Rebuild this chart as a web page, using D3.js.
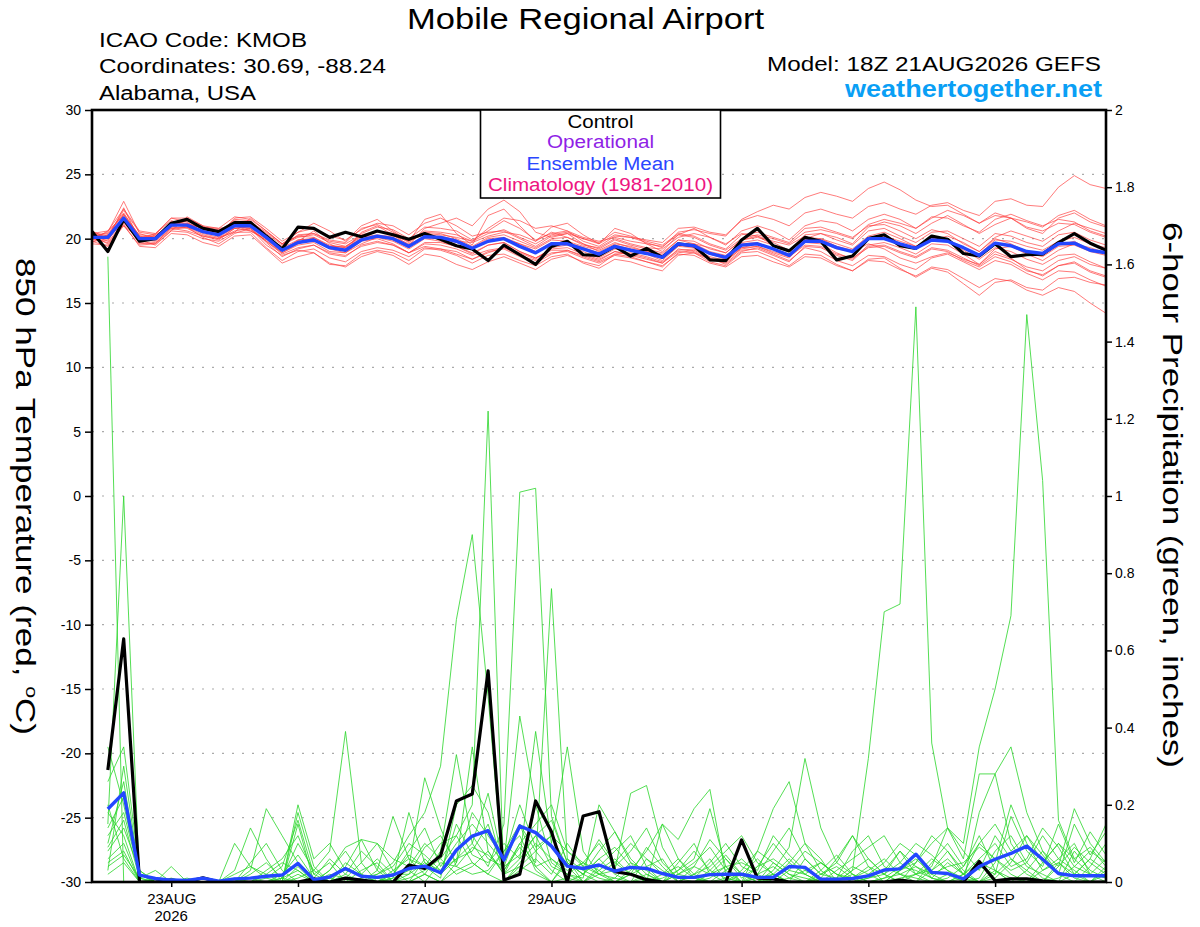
<!DOCTYPE html>
<html><head><meta charset="utf-8">
<script src="https://cdn.jsdelivr.net/npm/d3@7"></script>
<style>
body{margin:0;background:#fff}
svg{display:block}
text{font-family:"Liberation Sans",Arial,Helvetica,sans-serif}
</style>
</head><body>
<svg id="c" width="1200" height="927"></svg>
<script>
// ---------------- DATA ----------------
const startTime = "2026-08-21T18:00:00Z";   // model run 18Z 21AUG2026, 6-hourly steps
const stepHours = 6;

// Control run 850 hPa temperature (deg C), f000..f384
const controlTemp = [20.55,19.0,21.5,19.8,20.0,21.2,21.5,20.8,20.55,21.25,21.25,
 20.2,19.2,20.9,20.8,20.1,20.5,20.15,20.6,20.3,19.95,
 20.4,19.95,19.45,19.2,18.3,19.5,18.75,18.0,19.4,19.8,18.75,18.7,
 19.4,18.65,19.25,18.55,19.6,19.45,18.35,18.3,19.9,20.8,19.45,19.05,
 20.1,19.8,18.35,18.65,20.0,20.3,19.45,19.25,20.2,19.95,18.85,18.65,
 19.6,18.6,18.75,18.8,19.7,20.4,19.65,19.1];

// Ensemble mean 850 hPa temperature
const meanTemp = [20.1,20.1,21.6,20.0,20.0,21.05,21.05,20.55,20.3,21.0,21.0,
 20.1,19.1,19.7,19.9,19.3,19.1,19.9,20.2,20.0,19.4,
 20.15,20.1,19.8,19.25,19.8,20.0,19.4,18.9,19.6,19.6,19.2,18.8,
 19.4,19.1,18.85,18.55,19.6,19.45,18.85,18.55,19.5,19.6,19.2,18.7,
 19.8,19.8,19.3,19.0,20.0,20.0,19.6,19.25,19.9,19.8,19.3,18.7,
 19.65,19.45,19.0,18.85,19.6,19.65,19.1,18.9];

// Ensemble members 850 hPa temperature
const memberTemps = [
 [20.3,20.4,22.0,20.2,20.1,21.3,21.2,20.8,20.5,21.2,21.3, 20.5,19.6,20.2,20.4,19.8,19.6,20.3,20.6,20.4,19.9, 20.6,20.5,20.3,19.8,20.4,20.7,20.1,19.6,20.3,20.5,20.0,19.6, 20.3,20.1,19.9,19.7,20.8,20.9,20.5,20.3,21.4,21.8,21.5,21.0, 22.0,22.3,21.9,21.6,22.5,22.8,22.3,21.9,22.6,22.8,22.2,21.8, 22.9,23.1,22.6,22.5,24.0,24.9,24.2,23.9],
 [19.9,20.6,21.8,19.8,20.3,21.0,21.4,20.9,20.2,21.1,20.7, 19.8,18.9,19.6,20.1,19.5,19.3,20.4,20.9,20.7,20.0, 20.9,20.8,20.6,19.9,20.6,21.4,20.8,19.9,20.4,20.6,19.8,19.4, 20.2,20.1,19.7,19.3,20.5,20.7,20.4,20.2,21.5,22.1,22.6,22.3, 23.2,23.6,23.3,22.9,23.9,24.4,23.8,23.0,22.5,22.6,21.9,21.2, 21.8,21.6,20.9,20.6,21.2,21.1,20.5,20.1],
 [20.0,19.7,21.3,19.9,19.8,20.8,20.9,20.3,20.0,20.6,20.8, 19.8,18.8,19.3,19.5,18.9,18.7,19.4,19.7,19.5,18.9, 19.6,19.5,19.2,18.7,19.1,19.3,18.7,18.3,18.9,19.0,18.5,18.1, 18.7,18.5,18.2,17.9,18.8,18.7,18.1,17.8,18.6,18.7,18.2,17.8, 18.6,18.5,17.9,17.5,18.3,18.2,17.6,17.1,17.8,17.6,16.9,16.2, 16.9,16.7,16.0,15.6,16.2,15.9,15.0,14.2],
 [20.2,20.3,21.9,20.1,19.9,21.1,21.0,20.4,20.1,20.9,21.1, 20.0,19.0,19.9,20.0,19.2,18.9,19.6,20.1,19.8,19.2, 20.0,19.8,19.4,18.9,19.5,19.7,19.0,18.5,19.2,19.3,18.8,18.4, 19.0,18.8,18.5,18.1,19.0,18.9,18.2,17.9,18.9,19.0,18.5,17.9, 18.8,18.7,18.0,17.5,18.4,18.5,17.7,17.0,17.7,17.4,16.5,15.6, 16.6,16.8,16.2,16.0,16.9,17.0,16.6,16.4],
 [20.4,20.0,21.7,20.3,20.2,21.2,21.5,20.7,20.6,21.4,21.2, 20.4,19.5,20.1,20.3,19.7,19.4,20.2,20.5,20.4,19.7, 20.5,20.4,20.0,19.4,20.1,20.3,19.8,19.3,20.0,20.1,19.6,19.2, 19.9,19.5,19.2,18.9,19.9,19.8,19.2,18.9,19.9,20.1,19.7,19.1, 20.3,20.4,19.9,19.5,20.6,20.8,20.2,19.7,20.5,20.6,20.0,19.4, 20.4,20.2,19.7,19.4,20.3,20.5,19.9,19.5],
 [19.8,19.9,21.4,19.7,19.6,20.9,20.8,20.2,19.9,20.8,20.9, 19.7,18.6,19.2,19.5,18.8,18.6,19.5,19.8,19.5,18.9, 19.7,19.7,19.4,18.8,19.5,19.7,19.0,18.5,19.1,19.1,18.7,18.3, 19.0,18.7,18.4,18.1,19.2,19.0,18.4,18.1,19.1,19.2,18.7,18.2, 19.4,19.3,18.7,18.3,19.4,19.5,19.0,18.6,19.3,19.1,18.5,17.9, 18.8,18.4,17.8,17.5,18.3,18.6,18.0,17.7],
 [20.1,20.5,22.9,20.4,20.0,21.0,21.6,20.6,20.4,21.5,21.4, 20.3,19.2,19.8,20.6,19.6,19.0,20.5,21.0,20.3,19.5, 20.8,21.2,21.6,21.0,22.3,23.0,22.1,20.5,20.1,20.4,19.6,19.0, 19.6,19.4,19.0,18.7,19.5,19.6,19.3,18.9,19.9,20.2,19.5,19.0, 20.0,20.4,20.1,19.6,20.9,21.3,21.0,20.4,21.2,21.8,21.1,20.4, 21.1,21.6,21.3,20.9,21.8,22.2,21.5,21.0],
 [20.0,20.1,21.5,19.6,19.7,20.7,20.9,20.1,19.6,20.4,20.8, 19.5,18.7,19.1,18.9,18.0,17.9,18.8,19.1,18.9,18.3, 19.2,19.2,19.0,18.4,18.9,19.3,18.9,18.4,19.3,19.5,19.0,18.5, 19.2,19.1,18.8,18.3,19.4,19.3,18.8,18.4,19.3,19.4,18.9,18.5, 19.7,19.6,18.9,18.4,19.5,19.7,19.3,18.8,19.6,19.5,18.8,18.0, 19.0,18.5,17.6,17.1,17.9,18.2,17.5,17.1],
 [20.2,19.6,21.2,20.0,20.4,21.4,21.1,20.9,20.7,21.0,20.9, 20.2,19.3,19.9,20.0,19.4,19.4,20.1,20.3,20.1,19.6, 20.1,20.0,19.7,19.3,19.8,20.0,19.6,19.2,19.9,19.8,19.4,19.1, 19.7,19.3,19.0,18.8,19.9,19.6,19.0,18.7,19.7,19.9,19.5,19.0, 20.1,20.0,19.4,19.1,20.1,20.2,19.8,19.4,20.1,19.9,19.3,18.8, 19.9,19.8,19.4,19.1,19.8,20.1,19.6,19.3],
 [20.5,20.2,22.2,20.5,20.3,21.6,21.3,20.5,20.3,21.6,21.7, 20.8,19.8,20.5,20.8,20.2,19.9,20.7,21.2,21.0,20.3, 21.2,21.6,21.0,20.2,20.5,20.6,20.0,19.4,20.2,20.4,20.0,19.7, 20.5,20.2,19.8,19.5,20.4,20.2,19.6,19.2,20.3,20.5,20.1,19.7, 20.8,20.9,20.5,20.1,21.0,21.1,20.6,20.0,20.7,20.4,19.6,19.0, 20.0,19.6,19.0,18.7,19.5,19.8,19.1,18.8],
 [19.7,20.3,21.0,19.5,19.6,20.6,20.5,20.0,19.8,20.5,20.5, 19.3,18.3,19.0,19.2,18.5,18.2,19.0,19.3,19.1,18.6, 19.3,19.1,18.7,18.1,18.7,18.8,18.3,17.9,18.6,18.8,18.1,17.7, 18.4,18.2,17.8,17.5,18.7,18.9,18.4,18.2,19.3,19.6,19.2,18.8, 19.9,20.0,19.6,19.2,20.2,20.5,20.0,19.4,20.0,19.9,19.1,18.4, 19.3,19.0,18.4,18.0,18.7,18.8,18.2,17.7],
 [20.3,19.8,21.9,20.2,19.9,21.3,21.0,20.9,20.8,21.0,20.6, 20.0,19.4,20.3,20.4,19.9,19.7,20.8,21.1,20.5,19.9, 20.3,20.0,19.8,19.7,20.2,20.5,20.3,19.8,20.5,20.1,19.5,19.3, 20.0,19.6,19.3,19.2,20.1,20.4,20.1,19.6,20.4,20.2,19.8,19.5, 20.2,19.7,19.2,19.0,19.6,19.2,18.5,18.1,18.6,18.9,18.4,18.0, 19.2,19.4,18.8,18.3,19.1,19.6,19.3,18.9],
 [19.9,20.0,21.6,20.0,20.1,20.9,21.2,20.6,20.3,20.8,21.0, 20.1,19.1,19.7,19.9,19.3,19.1,19.9,20.2,19.9,19.3, 20.2,20.2,19.9,19.3,20.0,20.1,19.6,19.0,19.7,19.7,19.3,18.9, 19.5,19.2,18.9,18.6,19.6,19.4,18.9,18.6,19.6,19.7,19.2,18.7, 19.9,19.9,19.4,19.0,20.1,20.3,19.6,19.2,19.9,20.2,19.7,19.0, 20.1,20.6,20.2,19.8,20.6,21.2,20.8,20.4],
 [20.1,20.2,21.5,20.1,20.0,21.1,20.9,20.5,20.3,21.0,21.1, 20.0,19.1,19.7,19.9,19.3,19.2,20.0,20.2,20.0,19.4, 20.1,20.0,19.8,19.3,19.8,20.0,19.4,18.9,19.6,19.6,19.2,18.8, 19.4,19.1,18.8,18.5,19.5,19.4,18.8,18.5,19.5,19.6,19.2,18.7, 19.8,19.8,19.3,19.0,20.0,20.0,19.6,19.2,19.9,19.8,19.3,18.7, 19.6,19.4,18.9,18.6,19.4,19.5,19.0,18.7],
 [20.6,20.0,22.4,19.9,19.5,20.6,21.7,21.0,20.1,20.5,21.6, 20.6,19.6,20.5,21.2,20.6,19.8,21.0,21.5,20.6,19.8, 21.5,21.9,20.4,19.5,21.8,22.3,21.0,19.8,20.9,21.2,20.3,19.6, 20.8,20.4,19.6,19.0,20.3,20.8,20.1,19.5,20.6,21.0,20.6,19.9, 21.0,21.4,21.2,20.6,21.5,21.9,21.5,20.8,21.6,22.2,21.8,21.2, 22.0,21.6,20.8,20.4,21.6,22.0,21.3,20.9],
 [19.6,19.5,21.1,19.4,19.3,20.4,20.3,19.7,19.4,20.2,20.3, 19.2,18.1,18.6,18.9,18.1,17.8,18.6,19.0,18.7,18.0, 18.8,18.6,18.0,17.6,18.2,18.6,18.1,17.6,18.4,18.7,18.2,17.9, 18.8,18.9,18.6,18.2,19.1,19.2,18.6,18.3,19.2,19.4,19.0,18.6, 19.5,19.4,18.8,18.5,19.3,19.4,18.9,18.5,19.2,19.0,18.3,17.8, 18.6,18.2,17.5,17.2,17.9,18.1,17.4,17.0],
 [20.4,20.6,22.3,20.6,20.4,21.6,21.6,21.0,20.8,21.7,21.5, 20.6,19.6,20.2,20.1,19.4,19.3,20.0,20.2,20.2,19.8, 20.4,20.3,20.1,19.8,20.8,21.6,21.4,20.8,21.0,20.6,20.1,19.8, 20.1,19.8,19.6,19.4,20.3,20.1,19.5,19.1,20.0,20.3,20.0,19.6, 20.5,20.7,20.4,20.0,21.1,21.5,21.2,20.8,21.7,21.6,21.0,20.5, 21.5,21.9,21.4,21.0,21.5,21.3,20.6,20.2],
 [19.8,19.4,21.0,20.0,20.2,20.8,20.6,20.2,20.0,20.8,20.6, 19.9,18.9,19.5,19.7,19.0,18.9,19.8,20.0,19.6,18.9, 19.4,19.2,18.8,18.4,19.0,19.2,18.6,18.1,18.8,19.1,18.6,18.2, 18.8,18.6,18.2,17.8,18.9,19.1,18.5,18.0,19.0,19.3,18.8,18.3, 19.3,19.0,18.3,17.9,18.7,18.6,18.0,17.6,18.5,18.8,18.2,17.6, 18.3,18.0,17.3,16.8,17.5,17.4,16.8,16.3]
];

// Control run 6-hour precipitation (inches), f006..f384
const controlPrecip = [0.29,0.63,0.0,0.0,0.005,0.0,0.011,0.0,
 0.0,0.0,0.0,0.0,0.0,0.008,0.0,0.01,
 0.005,0.0,0.0,0.044,0.035,0.068,0.21,0.228,
 0.547,0.005,0.02,0.21,0.13,0.0,0.171,0.182,
 0.027,0.02,0.006,0.0,0.0,0.0,0.0,0.0,
 0.109,0.01,0.008,0.0,0.0,0.0,0.0,0.0,
 0.0,0.0,0.005,0.0,0.0,0.0,0.0,0.053,
 0.003,0.008,0.008,0.003,0.0,0.0,0.0,0.0];

// Ensemble mean 6-hour precipitation
const meanPrecip = [0.189,0.231,0.018,0.009,0.005,0.004,0.01,0.002,
 0.008,0.01,0.015,0.018,0.048,0.006,0.013,0.035,
 0.015,0.012,0.018,0.035,0.041,0.024,0.083,0.119,
 0.133,0.057,0.145,0.128,0.093,0.041,0.035,0.044,
 0.028,0.038,0.035,0.022,0.012,0.012,0.019,0.02,
 0.02,0.012,0.012,0.04,0.038,0.007,0.007,0.009,
 0.016,0.031,0.034,0.072,0.025,0.022,0.008,0.04,
 0.059,0.074,0.093,0.059,0.022,0.016,0.016,0.016];

// Ensemble members 6-hour precipitation
const memberPrecip = [
 [1.62,0.00,0.00,0.00,0.01,0.00,0.00,0.00, 0.00,0.02,0.05,0.01,0.00,0.00,0.03,0.08, 0.02,0.00,0.00,0.04,0.10,0.06,0.12,0.05, 0.02,0.08,0.15,0.04,0.00,0.06,0.03,0.01, 0.00,0.02,0.09,0.04,0.00,0.00,0.03,0.07, 0.02,0.00,0.01,0.05,0.10,0.03,0.00,0.00, 0.01,0.03,0.08,0.02,0.00,0.01,0.04,0.10, 0.06,0.02,0.00,0.03,0.05,0.01,0.00,0.02],
 [0.15,1.00,0.00,0.00,0.00,0.00,0.01,0.00, 0.00,0.00,0.03,0.06,0.12,0.02,0.00,0.01, 0.05,0.10,0.03,0.00,0.02,0.08,0.33,0.10, 0.23,0.04,0.07,0.12,0.16,0.05,0.02,0.08, 0.13,0.05,0.00,0.02,0.06,0.02,0.00,0.01, 0.00,0.04,0.10,0.05,0.02,0.00,0.00,0.03, 0.06,0.02,0.00,0.00,0.03,0.08,0.03,0.00, 0.01,0.05,0.12,0.07,0.02,0.00,0.04,0.10],
 [0.35,0.20,0.02,0.00,0.00,0.00,0.00,0.00, 0.00,0.01,0.00,0.00,0.04,0.00,0.00,0.02, 0.00,0.00,0.03,0.06,0.04,0.10,0.12,0.20, 1.22,0.00,0.03,0.06,0.02,0.10,0.04,0.02, 0.00,0.03,0.08,0.15,0.06,0.01,0.00,0.00, 0.03,0.08,0.05,0.02,0.00,0.01,0.06,0.12, 0.04,0.00,0.01,0.02,0.06,0.03,0.00,0.01, 0.08,0.12,0.05,0.01,0.00,0.02,0.06,0.03],
 [0.10,0.26,0.01,0.00,0.00,0.00,0.00,0.00, 0.02,0.04,0.01,0.00,0.00,0.00,0.00,0.00, 0.00,0.02,0.05,0.12,0.18,0.30,0.68,0.90, 0.48,0.00,0.05,0.10,0.06,0.02,0.00,0.04, 0.08,0.12,0.04,0.00,0.02,0.05,0.09,0.03, 0.00,0.00,0.02,0.06,0.02,0.00,0.01,0.04, 0.02,0.00,0.00,0.05,0.12,0.08,0.02,0.00, 0.03,0.01,0.00,0.00,0.04,0.09,0.05,0.02],
 [0.18,0.12,0.00,0.01,0.00,0.00,0.00,0.00, 0.00,0.00,0.02,0.05,0.03,0.00,0.01,0.00, 0.00,0.00,0.02,0.02,0.05,0.03,0.06,0.10, 0.04,0.15,1.01,1.02,0.17,0.05,0.02,0.00, 0.01,0.05,0.03,0.00,0.00,0.02,0.04,0.08, 0.12,0.05,0.02,0.00,0.00,0.03,0.07,0.02, 0.00,0.01,0.04,0.03,0.01,0.00,0.02,0.05, 0.03,0.00,0.00,0.05,0.10,0.04,0.02,0.00],
 [0.26,0.35,0.03,0.00,0.00,0.00,0.00,0.00, 0.01,0.00,0.00,0.02,0.07,0.01,0.00,0.04, 0.11,0.03,0.00,0.01,0.03,0.06,0.02,0.04, 0.08,0.02,0.10,0.05,0.76,0.06,0.00,0.02, 0.05,0.02,0.00,0.01,0.03,0.06,0.19,0.04, 0.00,0.02,0.04,0.01,0.00,0.02,0.05,0.02, 0.00,0.00,0.03,0.06,0.02,0.00,0.01,0.04, 0.02,0.06,0.03,0.00,0.01,0.04,0.08,0.05],
 [0.05,0.08,0.00,0.00,0.00,0.00,0.00,0.00, 0.00,0.00,0.00,0.00,0.02,0.00,0.00,0.00, 0.00,0.01,0.00,0.00,0.02,0.00,0.03,0.05, 0.02,0.00,0.04,0.02,0.00,0.01,0.00,0.00, 0.00,0.00,0.01,0.00,0.02,0.04,0.02,0.00, 0.00,0.01,0.02,0.00,0.00,0.01,0.00,0.03, 0.32,0.70,0.72,1.49,0.36,0.14,0.10,0.35, 0.50,0.69,1.47,1.04,0.16,0.06,0.02,0.01],
 [0.12,0.18,0.02,0.00,0.00,0.00,0.00,0.00, 0.03,0.14,0.06,0.00,0.01,0.03,0.08,0.39, 0.05,0.00,0.02,0.08,0.14,0.04,0.10,0.15, 0.10,0.05,0.43,0.20,0.05,0.02,0.01,0.20, 0.13,0.06,0.02,0.00,0.00,0.04,0.11,0.06, 0.02,0.00,0.03,0.09,0.32,0.14,0.05,0.12, 0.06,0.02,0.00,0.02,0.04,0.14,0.06,0.28, 0.28,0.35,0.18,0.08,0.04,0.19,0.10,0.05],
 [0.08,0.14,0.03,0.00,0.00,0.00,0.00,0.00, 0.00,0.03,0.19,0.12,0.05,0.00,0.02,0.01, 0.00,0.03,0.17,0.06,0.02,0.00,0.05,0.35, 0.08,0.02,0.06,0.39,0.10,0.35,0.08,0.02, 0.03,0.23,0.25,0.09,0.02,0.01,0.00,0.03, 0.06,0.02,0.00,0.01,0.03,0.05,0.02,0.00, 0.02,0.05,0.10,0.07,0.01,0.00,0.02,0.06, 0.10,0.04,0.06,0.14,0.09,0.02,0.00,0.03],
 [0.04,0.07,0.01,0.03,0.00,0.00,0.00,0.00, 0.10,0.04,0.02,0.00,0.20,0.06,0.10,0.03, 0.02,0.00,0.01,0.18,0.05,0.02,0.06,0.08, 0.15,0.02,0.04,0.08,0.12,0.04,0.00,0.03, 0.06,0.02,0.00,0.15,0.11,0.19,0.24,0.02, 0.00,0.00,0.05,0.02,0.01,0.00,0.03,0.06, 0.09,0.12,0.05,0.02,0.03,0.06,0.02,0.00, 0.02,0.17,0.08,0.04,0.15,0.05,0.13,0.07],
 [0.20,0.06,0.00,0.00,0.04,0.00,0.00,0.00, 0.00,0.00,0.00,0.00,0.15,0.00,0.03,0.09, 0.11,0.10,0.06,0.04,0.27,0.14,0.04,0.02, 0.03,0.08,0.12,0.03,0.00,0.05,0.02,0.06, 0.09,0.04,0.01,0.00,0.03,0.08,0.03,0.01, 0.00,0.08,0.19,0.26,0.10,0.06,0.00,0.02, 0.00,0.01,0.02,0.00,0.05,0.10,0.04,0.12, 0.03,0.00,0.03,0.08,0.02,0.15,0.07,0.13],
 [0.02,0.05,0.00,0.00,0.00,0.01,0.00,0.00, 0.00,0.00,0.00,0.00,0.18,0.04,0.00,0.00, 0.03,0.05,0.00,0.00,0.06,0.02,0.15,0.07, 0.05,0.10,0.06,0.12,0.04,0.02,0.05,0.03, 0.00,0.02,0.04,0.06,0.00,0.00,0.01,0.04, 0.05,0.03,0.12,0.07,0.03,0.01,0.00,0.00, 0.00,0.00,0.03,0.05,0.10,0.14,0.08,0.03, 0.12,0.06,0.02,0.00,0.05,0.02,0.06,0.15],
 [0.06,0.10,0.00,0.00,0.00,0.00,0.00,0.00, 0.00,0.00,0.01,0.04,0.16,0.02,0.05,0.00, 0.01,0.02,0.04,0.10,0.07,0.03,0.08,0.12, 0.06,0.04,0.15,0.08,0.03,0.00,0.02,0.06, 0.02,0.00,0.06,0.03,0.00,0.02,0.06,0.00, 0.02,0.06,0.02,0.00,0.06,0.02,0.01,0.08, 0.12,0.04,0.02,0.01,0.00,0.02,0.00,0.18, 0.28,0.10,0.04,0.02,0.00,0.08,0.03,0.01],
 [0.14,0.22,0.02,0.00,0.00,0.00,0.00,0.00, 0.00,0.00,0.00,0.01,0.03,0.00,0.00,0.00, 0.00,0.00,0.01,0.03,0.00,0.05,0.04,0.09, 0.07,0.03,0.09,0.04,0.06,0.03,0.05,0.02, 0.01,0.00,0.02,0.00,0.05,0.10,0.02,0.04, 0.00,0.01,0.00,0.03,0.08,0.05,0.02,0.01, 0.04,0.02,0.05,0.10,0.07,0.03,0.01,0.00, 0.05,0.20,0.10,0.03,0.06,0.03,0.00,0.04],
 [0.09,0.16,0.01,0.00,0.00,0.00,0.00,0.00, 0.00,0.05,0.10,0.03,0.00,0.01,0.06,0.02, 0.08,0.04,0.00,0.02,0.09,0.12,0.05,0.18, 0.12,0.06,0.20,0.09,0.12,0.08,0.04,0.11, 0.05,0.10,0.06,0.02,0.04,0.01,0.05,0.10, 0.04,0.02,0.08,0.14,0.06,0.02,0.04,0.01, 0.03,0.06,0.02,0.04,0.01,0.05,0.02,0.10, 0.15,0.08,0.12,0.05,0.10,0.06,0.09,0.04],
 [0.03,0.30,0.02,0.00,0.00,0.00,0.00,0.00, 0.00,0.00,0.00,0.01,0.10,0.03,0.00,0.05, 0.02,0.06,0.02,0.07,0.04,0.01,0.20,0.25, 0.18,0.03,0.10,0.15,0.20,0.08,0.05,0.10, 0.04,0.08,0.14,0.05,0.01,0.00,0.02,0.06, 0.01,0.04,0.06,0.03,0.02,0.05,0.02,0.00, 0.01,0.02,0.08,0.04,0.02,0.04,0.05,0.09, 0.06,0.03,0.05,0.12,0.06,0.10,0.02,0.06]
];

// Axis ticks and labels
const tempTicks = [-30,-25,-20,-15,-10,-5,0,5,10,15,20,25,30];
const tempTickLabels = ["-30","-25","-20","-15","-10","-5","0","5","10","15","20","25","30"];
const tempGrid = [-25,-20,-15,-10,-5,0,5,10,15,20,25];
const precipTicks = [0,0.2,0.4,0.6,0.8,1,1.2,1.4,1.6,1.8,2];
const precipTickLabels = ["0","0.2","0.4","0.6","0.8","1","1.2","1.4","1.6","1.8","2"];
const dateTicks = ["2026-08-23T00:00:00Z","2026-08-25T00:00:00Z","2026-08-27T00:00:00Z","2026-08-29T00:00:00Z","2026-09-01T00:00:00Z","2026-09-03T00:00:00Z","2026-09-05T00:00:00Z"];
const dateTickLabels = ["23AUG","25AUG","27AUG","29AUG","1SEP","3SEP","5SEP"];

// ---------------- DRAW ----------------
const svg = d3.select("#c");
const L = 92, R = 1106, T = 110, B = 882;
const t0 = new Date(startTime);
const timeAt = i => new Date(t0.getTime() + i * stepHours * 3600e3);
const x = d3.scaleUtc().domain([timeAt(0), timeAt(controlTemp.length - 1)]).range([L, R]);
const yT = d3.scaleLinear().domain([-30, 30]).range([B, T]);
const yP = d3.scaleLinear().domain([0, 2]).range([B, T]);

svg.append("rect").attr("width",1200).attr("height",927).attr("fill","#fff");

svg.append("defs").append("clipPath").attr("id","clip")
  .append("rect").attr("x",L).attr("y",T).attr("width",R-L).attr("height",B-T);

// grid
svg.append("g").selectAll("line").data(tempGrid).join("line")
  .attr("x1",L).attr("x2",R).attr("y1",d=>yT(d)).attr("y2",d=>yT(d))
  .attr("stroke","#aaaaaa").attr("stroke-width",1.2).attr("stroke-dasharray","2,8");

const plot = svg.append("g").attr("clip-path","url(#clip)");
const lineT = d3.line().x((d,i)=>x(timeAt(i))).y(d=>yT(d));
const lineP = d3.line().x((d,i)=>x(timeAt(i+1))).y(d=>yP(d));

plot.append("g").selectAll("path").data(memberTemps).join("path")
  .attr("d",lineT).attr("fill","none").attr("stroke","#ff3a3a").attr("stroke-opacity",0.75).attr("stroke-width",0.9);
plot.append("g").selectAll("path").data(memberPrecip).join("path")
  .attr("d",lineP).attr("fill","none").attr("stroke","#2bd62b").attr("stroke-opacity",0.9).attr("stroke-width",0.9);

plot.append("path").datum(controlTemp).attr("d",lineT).attr("fill","none")
  .attr("stroke","#000").attr("stroke-width",3.2).attr("stroke-linejoin","round");
plot.append("path").datum(controlPrecip).attr("d",lineP).attr("fill","none")
  .attr("stroke","#000").attr("stroke-width",3.2).attr("stroke-linejoin","round");
plot.append("path").datum(meanTemp).attr("d",lineT).attr("fill","none")
  .attr("stroke","#2347ff").attr("stroke-width",3.4).attr("stroke-linejoin","round");
plot.append("path").datum(meanPrecip).attr("d",lineP).attr("fill","none")
  .attr("stroke","#2347ff").attr("stroke-width",3.4).attr("stroke-linejoin","round");

// axes
const styleAxis = (g, size) => {
  g.select(".domain").remove();
  g.selectAll(".tick line").attr("stroke","#000").attr("stroke-width",1.5);
  g.selectAll(".tick text").attr("fill","#000").style("font-family","'Liberation Sans',Arial,sans-serif").style("font-size",size+"px");
};
svg.append("g").attr("transform",`translate(${L},0)`)
  .call(d3.axisLeft(yT).tickValues(tempTicks).tickSize(7).tickPadding(4).tickFormat((d,i)=>tempTickLabels[i]))
  .call(g=>styleAxis(g,14));
svg.append("g").attr("transform",`translate(${R},0)`)
  .call(d3.axisRight(yP).tickValues(precipTicks).tickSize(6).tickPadding(3).tickFormat((d,i)=>precipTickLabels[i]))
  .call(g=>styleAxis(g,14));
svg.append("g").attr("transform",`translate(0,${B})`)
  .call(d3.axisBottom(x).tickValues(dateTicks.map(s=>new Date(s))).tickSize(5).tickPadding(6).tickFormat((d,i)=>dateTickLabels[i]))
  .call(g=>styleAxis(g,15));
svg.append("text").attr("x",x(new Date(dateTicks[0]))).attr("y",921).attr("text-anchor","middle")
  .style("font-size","15px").text("2026");

// frame
svg.append("rect").attr("x",L).attr("y",T).attr("width",R-L).attr("height",B-T)
  .attr("fill","none").attr("stroke","#000").attr("stroke-width",2.6);

// legend
svg.append("rect").attr("x",480.5).attr("y",110).attr("width",240).attr("height",88)
  .attr("fill","#fff").attr("stroke","#000").attr("stroke-width",1.6);
const legendItems = [
  {t:"Control", c:"#000000", y:127.5, w:66},
  {t:"Operational", c:"#8f1fe6", y:148, w:107},
  {t:"Ensemble Mean", c:"#2a46ff", y:169.5, w:148},
  {t:"Climatology (1981-2010)", c:"#ee1480", y:190.5, w:225}
];
svg.append("g").selectAll("text").data(legendItems).join("text")
  .attr("x",600.5).attr("y",d=>d.y).attr("text-anchor","middle")
  .attr("fill",d=>d.c).style("font-size","18px")
  .attr("textLength",d=>d.w).attr("lengthAdjust","spacingAndGlyphs").text(d=>d.t);

// titles
svg.append("text").attr("x",585.5).attr("y",28.5).attr("text-anchor","middle")
  .style("font-size","29px").attr("textLength",357).attr("lengthAdjust","spacingAndGlyphs")
  .text("Mobile Regional Airport");
const infoLines = [
  {t:"ICAO Code: KMOB", y:46.5, w:208},
  {t:"Coordinates: 30.69, -88.24", y:73, w:287},
  {t:"Alabama, USA", y:99.5, w:157}
];
svg.append("g").selectAll("text").data(infoLines).join("text")
  .attr("x",99).attr("y",d=>d.y).style("font-size","20px")
  .attr("textLength",d=>d.w).attr("lengthAdjust","spacingAndGlyphs").text(d=>d.t);
svg.append("text").attr("x",1101).attr("y",71).attr("text-anchor","end")
  .style("font-size","20px").attr("textLength",334).attr("lengthAdjust","spacingAndGlyphs")
  .text("Model: 18Z 21AUG2026 GEFS");
svg.append("text").attr("x",1102).attr("y",97).attr("text-anchor","end")
  .style("font-size","23px").style("font-weight","bold").attr("fill","#0a9ff5")
  .attr("textLength",257).attr("lengthAdjust","spacingAndGlyphs")
  .text("weathertogether.net");

// axis titles
const lt = svg.append("text").attr("transform","translate(15.5,496.5) rotate(90)")
  .attr("text-anchor","middle").style("font-size","28px")
  .attr("textLength",477).attr("lengthAdjust","spacingAndGlyphs");
lt.append("tspan").text("850 hPa Temperature (red, ");
lt.append("tspan").attr("dy",-10).style("font-size","17px").text("o");
lt.append("tspan").attr("dy",10).text("C)");

svg.append("text").attr("transform","translate(1163,495) rotate(90)")
  .attr("text-anchor","middle").style("font-size","28px")
  .attr("textLength",546).attr("lengthAdjust","spacingAndGlyphs")
  .text("6-hour Precipitation (green, inches)");
</script>
</body></html>
